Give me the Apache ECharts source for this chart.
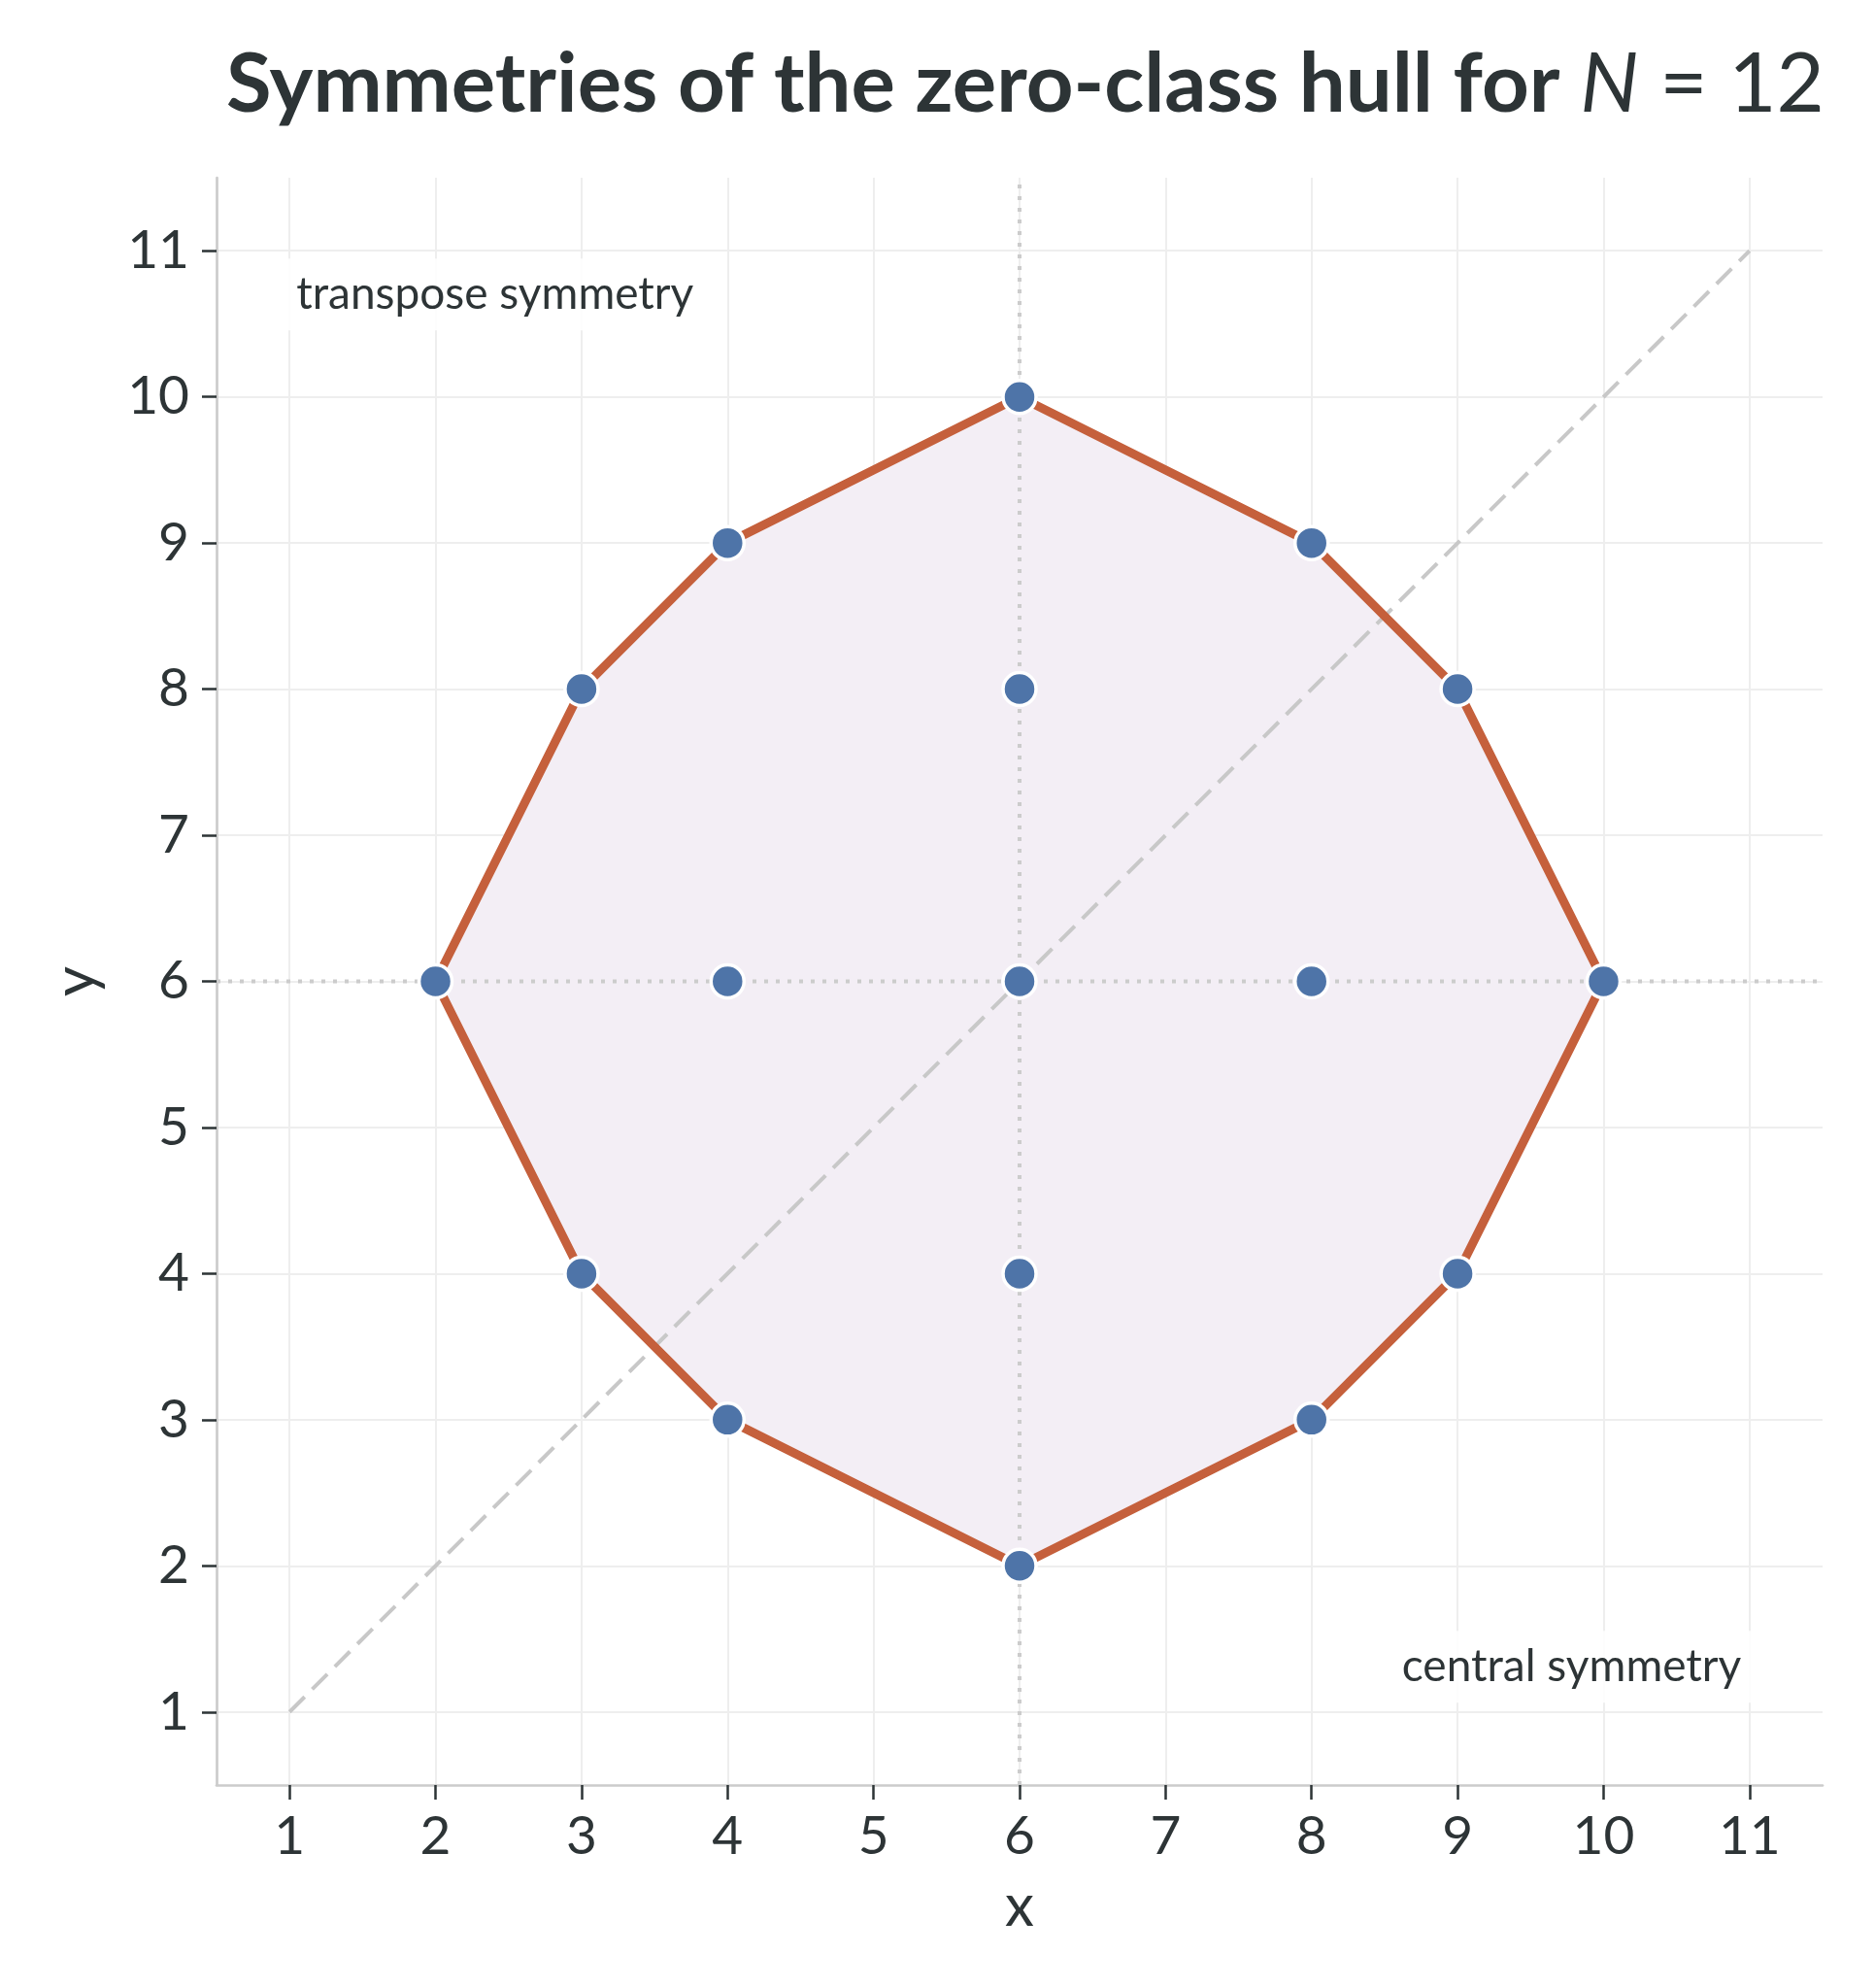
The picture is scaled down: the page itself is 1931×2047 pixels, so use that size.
<!DOCTYPE html>
<html>
<head>
<meta charset="utf-8">
<script src="https://cdn.jsdelivr.net/npm/echarts@6/dist/echarts.min.js"></script>
<style>
  html, body { margin: 0; padding: 0; background: #fff; }
  #chart { width: 1931px; height: 2047px; }
</style>
</head>
<body>
<div id="chart"></div>
<script>
// hull vertices, in order round the polygon
const hullX = [6, 8, 9, 10, 9, 8, 6, 4, 3, 2, 3, 4];
const hullY = [10, 9, 8, 6, 4, 3, 2, 3, 4, 6, 8, 9];
// points inside the hull
const innerX = [6, 4, 6, 8, 6];
const innerY = [8, 6, 6, 6, 4];
// symmetry guides
const diagX = [1, 11];
const diagY = [1, 11];
const axisCenter = 6;
const tickValues = [1, 2, 3, 4, 5, 6, 7, 8, 9, 10, 11];
const axisMin = 0.5;
const axisMax = 11.5;
// annotation anchors
const noteTranspose = [0.98, 10.7, 'transpose symmetry'];
const noteCentral = [11.01, 1.31, 'central symmetry'];

const ink = '#2d3436';
const font = 'Lato';

const hull = hullX.map((x, i) => [x, hullY[i]]);
const allPts = hull.concat(innerX.map((x, i) => [x, innerY[i]]));

const chart = echarts.init(document.getElementById('chart'));

function axisOpts(name, extra) {
  return Object.assign({
    type: 'value',
    min: axisMin,
    max: axisMax,
    name: name,
    nameLocation: 'middle',
    nameTextStyle: { fontFamily: font, fontSize: 60, color: ink },
    axisLine: { show: true, lineStyle: { color: '#cccccc', width: 2.7 } },
    axisTick: { show: true, length: 15, lineStyle: { color: ink, width: 2.5 }, customValues: tickValues },
    splitLine: { show: true, lineStyle: { color: '#eeeeee', width: 2 } }
  }, extra);
}

chart.setOption({
  backgroundColor: '#ffffff',
  animation: false,
  title: {
    text: '{b|Symmetries of the zero-class hull for }{i|N}{r| = 12}',
    left: 1051,
    textAlign: 'center',
    top: 40,
    textStyle: {
      rich: {
        b: { fontFamily: font, fontWeight: 'bold', fontSize: 85, color: ink },
        i: { fontFamily: font, fontStyle: 'italic', fontWeight: 'normal', fontSize: 85, color: ink },
        r: { fontFamily: font, fontWeight: 'normal', fontSize: 85, color: ink }
      }
    }
  },
  grid: { left: 223, right: 54, top: 183, bottom: 209, containLabel: false },
  xAxis: axisOpts('x', { nameGap: 96, axisLabel: { fontFamily: font, fontSize: 55, color: ink, margin: 26, customValues: tickValues } }),
  yAxis: axisOpts('y', { nameGap: 114, nameRotate: 90, axisLabel: { fontFamily: font, fontSize: 55, color: ink, margin: 28, customValues: tickValues } }),
  series: [
    {
      // filled hull
      type: 'custom',
      data: hull,
      renderItem: function (params, api) {
        if (params.dataIndex !== 0) return;
        const pts = hull.map(p => api.coord(p));
        return {
          type: 'polygon',
          shape: { points: pts },
          style: { fill: '#f3eef5', stroke: null }
        };
      },
      z: 1,
      silent: true
    },
    {
      // x = 6 guide
      type: 'line',
      data: [[axisCenter, axisMin], [axisCenter, axisMax]],
      symbol: 'none',
      lineStyle: { color: '#cccccc', width: 4, type: [4, 8] },
      z: 2, silent: true
    },
    {
      // y = 6 guide
      type: 'line',
      data: [[axisMin, axisCenter], [axisMax, axisCenter]],
      symbol: 'none',
      lineStyle: { color: '#cccccc', width: 4, type: [4, 8] },
      z: 2, silent: true
    },
    {
      // transpose diagonal
      type: 'line',
      data: diagX.map((x, i) => [x, diagY[i]]),
      symbol: 'none',
      lineStyle: { color: '#c8c8c8', width: 4, type: [22, 11] },
      z: 2, silent: true
    },
    {
      // hull outline
      type: 'line',
      data: hull.concat([hull[0]]),
      symbol: 'none',
      lineStyle: { color: '#c5603c', width: 9, join: 'round' },
      z: 3, silent: true
    },
    {
      type: 'scatter',
      data: allPts,
      symbol: 'circle',
      symbolSize: 34,
      itemStyle: { color: '#4e74a8', borderColor: '#ffffff', borderWidth: 3.5, opacity: 1 },
      z: 4, silent: true
    },
    {
      // annotations
      type: 'scatter',
      symbolSize: 0,
      silent: true,
      z: 5,
      itemStyle: { opacity: 1 },
      data: [
        { value: noteTranspose, label: { position: 'right', distance: 0 } },
        { value: noteCentral, label: { position: 'left', distance: 0 } }
      ],
      label: {
        show: true,
        formatter: p => p.value[2],
        fontFamily: font,
        fontSize: 46,
        color: ink,
        opacity: 1,
        backgroundColor: 'rgba(255,255,255,0.85)',
        padding: [14, 10, 14, 10]
      }
    }
  ]
});
</script>
</body>
</html>
